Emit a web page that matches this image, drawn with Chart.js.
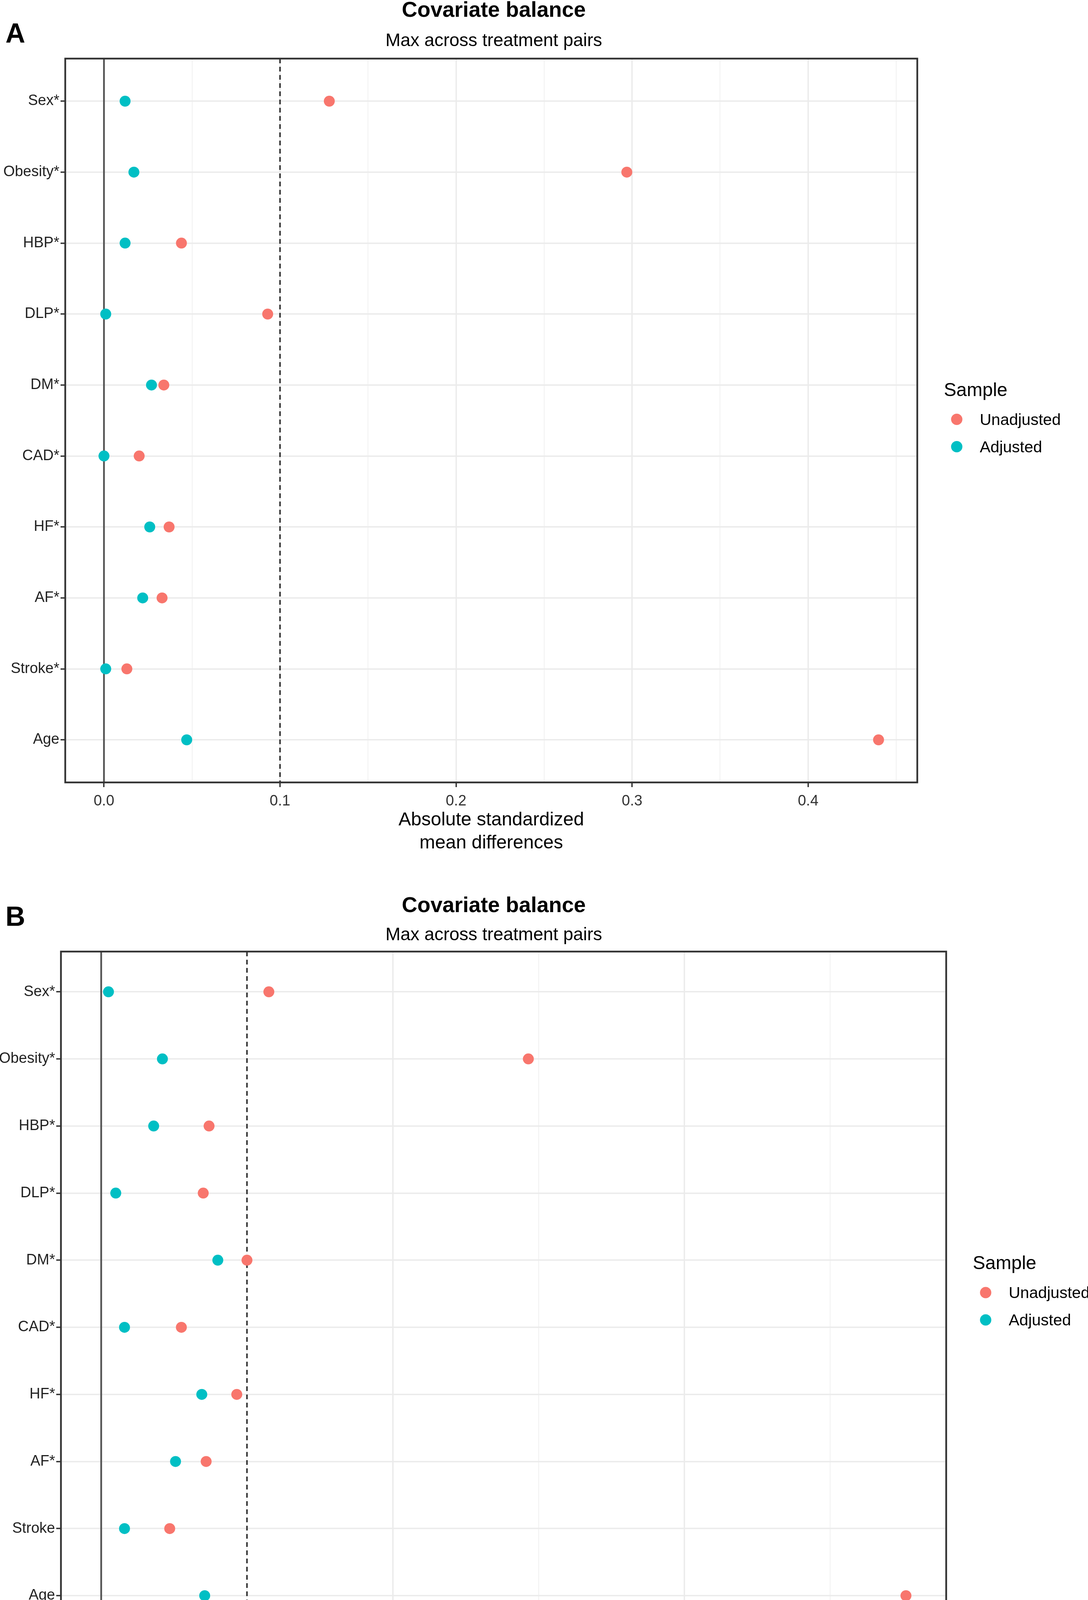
<!DOCTYPE html>
<html>
<head>
<meta charset="utf-8">
<title>Covariate balance</title>
<script src="https://cdn.jsdelivr.net/npm/chart.js@4.4.1/dist/chart.umd.min.js"></script>
<style>
  html, body { margin: 0; padding: 0; background: #fff; overflow: hidden; }
  body { width: 2785px; height: 4362px; position: relative; }
  canvas { position: absolute; left: 0; }
  #chartA { top: 0; }
  #chartB { top: 2290px; }
</style>
</head>
<body>
<canvas id="chartA" width="2785" height="2200"></canvas>
<canvas id="chartB" width="2785" height="2074"></canvas>
<script>
// Covariates, top to bottom
const covariatesA = ['Sex*', 'Obesity*', 'HBP*', 'DLP*', 'DM*', 'CAD*', 'HF*', 'AF*', 'Stroke*', 'Age'];
const covariatesB = ['Sex*', 'Obesity*', 'HBP*', 'DLP*', 'DM*', 'CAD*', 'HF*', 'AF*', 'Stroke', 'Age'];

// Absolute standardized mean differences (max across treatment pairs), panel A
const unadjustedA = [0.128, 0.297, 0.044, 0.093, 0.034, 0.020, 0.037, 0.033, 0.013, 0.440];
const adjustedA   = [0.012, 0.017, 0.012, 0.001, 0.027, 0.000, 0.026, 0.022, 0.001, 0.047];

// Panel B
const unadjustedB = [0.115, 0.293, 0.074, 0.070, 0.100, 0.055, 0.093, 0.072, 0.047, 0.552];
const adjustedB   = [0.005, 0.042, 0.036, 0.010, 0.080, 0.016, 0.069, 0.051, 0.016, 0.071];

// x axis breaks (labelled) and minor breaks
const xTicksA = [0, 0.1, 0.2, 0.3, 0.4];
const xMinorA = [0.05, 0.15, 0.25, 0.35, 0.45];
const xTicksB = [0, 0.2, 0.4];
const xMinorB = [0.1, 0.3, 0.5];

const threshold = 0.1;
const sampleLabels = ['Unadjusted', 'Adjusted'];
const sampleColors = ['#F8766D', '#00BFC4'];

const FONT = "'Liberation Sans', Arial, Helvetica, sans-serif";

// Titles, panel tag, border and the "Sample" legend
const panelDecor = {
  id: 'panelDecor',
  afterDatasetsDraw(chart) {
    const { ctx, chartArea: a } = chart;
    ctx.save();
    ctx.strokeStyle = '#333333';
    ctx.lineWidth = 4.5;
    ctx.strokeRect(a.left, a.top, a.right - a.left, a.bottom - a.top);
    ctx.restore();
  },
  afterDraw(chart, args, opts) {
    const { ctx, chartArea: a } = chart;
    ctx.save();
    ctx.fillStyle = '#000';
    ctx.textBaseline = 'middle';

    ctx.textAlign = 'left';
    ctx.font = `bold 70px ${FONT}`;
    ctx.fillText(opts.tag, 14, opts.tagY);

    ctx.textAlign = 'center';
    ctx.font = `bold 55px ${FONT}`;
    ctx.fillText('Covariate balance', opts.titleX, opts.titleY);
    ctx.font = `46px ${FONT}`;
    ctx.fillText('Max across treatment pairs', opts.titleX, opts.subtitleY);

    // legend, centred on the panel
    const cy = (a.top + a.bottom) / 2;
    ctx.textAlign = 'left';
    ctx.font = `48px ${FONT}`;
    ctx.fillText('Sample', a.right + 68, cy - 76);
    ctx.font = `41px ${FONT}`;
    const sets = chart.data.datasets.filter(d => d.isSample);
    sets.forEach((d, i) => {
      const y = cy - 3 + i * 70;
      ctx.fillStyle = d.backgroundColor;
      ctx.beginPath();
      ctx.arc(a.right + 101, y, 14.5, 0, Math.PI * 2);
      ctx.fill();
      ctx.fillStyle = '#000';
      ctx.fillText(d.label, a.right + 160, y + 3);
    });
    ctx.restore();
  }
};

function makeChart(id, labels, unadj, adj, majors, minors, lay) {
  const top = Math.max(...unadj, ...adj, 0);
  const xMin = -0.05 * top;
  const xMax = top * 1.05;
  const yMin = -0.6;
  const yMax = labels.length - 0.4;
  const isMajor = v => majors.includes(v);

  return new Chart(document.getElementById(id), {
    type: 'scatter',
    data: {
      datasets: [
        {
          label: sampleLabels[0],
          isSample: true,
          data: unadj.map((v, i) => ({ x: v, y: i })),
          backgroundColor: sampleColors[0],
          pointRadius: 14,
          pointBorderWidth: 0,
          order: 1,
        },
        {
          label: sampleLabels[1],
          isSample: true,
          data: adj.map((v, i) => ({ x: v, y: i })),
          backgroundColor: sampleColors[1],
          pointRadius: 14,
          pointBorderWidth: 0,
          order: 1,
        },
        {
          type: 'line',
          label: 'zero',
          data: [{ x: 0, y: yMin }, { x: 0, y: yMax }],
          borderColor: '#555555',
          borderWidth: 4.5,
          pointRadius: 0,
          order: 2,
        },
        {
          type: 'line',
          label: 'threshold',
          data: [{ x: threshold, y: yMin }, { x: threshold, y: yMax }],
          borderColor: '#333333',
          borderWidth: 4,
          borderDash: [12, 9],
          pointRadius: 0,
          order: 2,
        },
      ],
    },
    options: {
      responsive: false,
      devicePixelRatio: 1,
      animation: false,
      events: [],
      layout: { padding: { left: 0, right: lay.padRight, top: lay.padTop, bottom: 0 } },
      plugins: {
        legend: { display: false },
        tooltip: { enabled: false },
        panelDecor: lay.decor,
      },
      scales: {
        x: {
          type: 'linear',
          min: xMin,
          max: xMax,
          afterBuildTicks: s => { s.ticks = [...majors, ...minors].sort((p, q) => p - q).map(v => ({ value: v })); },
          afterFit: s => { s.height = lay.xAxisHeight; },
          border: { display: false },
          grid: {
            color: c => (c.tick && isMajor(c.tick.value)) ? '#EBEBEB' : '#EFEFEF',
            lineWidth: c => (c.tick && isMajor(c.tick.value)) ? 3.5 : 1.8,
            tickColor: c => (c.tick && isMajor(c.tick.value)) ? '#333333' : 'rgba(0,0,0,0)',
            tickLength: 12,
            tickWidth: 3.5,
          },
          ticks: {
            autoSkip: false,
            maxRotation: 0,
            padding: 14,
            color: '#333333',
            font: { family: FONT, size: 38 },
            callback: v => isMajor(v) ? v.toFixed(1) : '',
          },
          title: {
            display: true,
            text: ['Absolute standardized', 'mean differences'],
            color: '#000',
            font: { family: FONT, size: 48, lineHeight: 1.23 },
            padding: { top: 0, bottom: lay.titlePad },
          },
        },
        y: {
          type: 'linear',
          reverse: true,
          min: yMin,
          max: yMax,
          afterBuildTicks: s => { s.ticks = labels.map((_, i) => ({ value: i })); },
          afterFit: s => { s.width = lay.yAxisWidth; },
          border: { display: false },
          grid: {
            color: '#EBEBEB',
            lineWidth: 3.5,
            tickColor: '#333333',
            tickLength: 12,
            tickWidth: 3.5,
          },
          ticks: {
            autoSkip: false,
            padding: 3,
            color: '#222222',
            font: { family: FONT, size: 38 },
            callback: v => labels[v],
          },
        },
      },
    },
    plugins: [panelDecor],
  });
}

makeChart('chartA', covariatesA, unadjustedA, adjustedA, xTicksA, xMinorA, {
  padTop: 150, padRight: 437, yAxisWidth: 167, xAxisHeight: 197, titlePad: 12,
  decor: { tag: 'A', tagY: 90, titleX: 1264, titleY: 28, subtitleY: 105 },
});

makeChart('chartB', covariatesB, unadjustedB, adjustedB, xTicksB, xMinorB, {
  padTop: 146, padRight: 363, yAxisWidth: 156, xAxisHeight: 176, titlePad: 1,
  decor: { tag: 'B', tagY: 61, titleX: 1264, titleY: 30, subtitleY: 104 },
});
</script>
</body>
</html>
